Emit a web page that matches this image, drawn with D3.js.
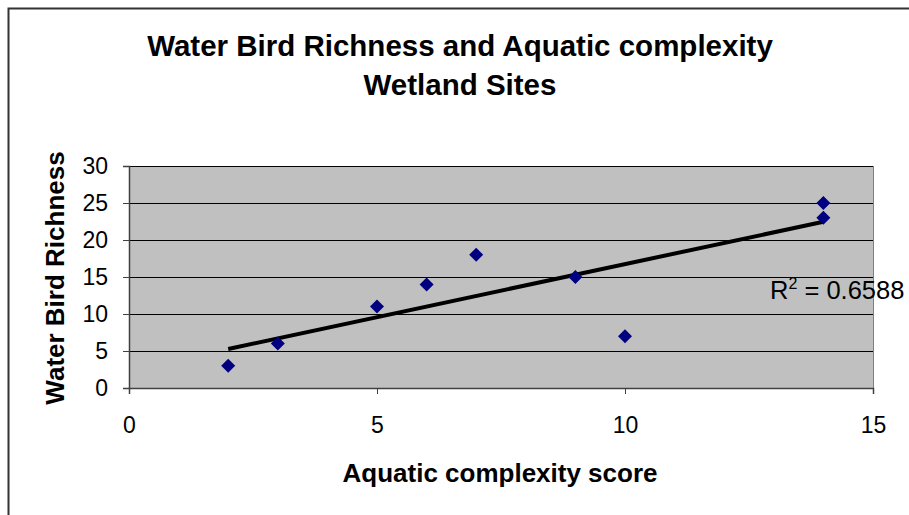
<!DOCTYPE html>
<html>
<head>
<meta charset="utf-8">
<script src="https://cdn.jsdelivr.net/npm/d3@7"></script>
<style>
  html, body { margin: 0; padding: 0; background: #ffffff; }
  svg { display: block; font-family: "Liberation Sans", Arial, sans-serif; }
</style>
</head>
<body>
<svg id="chart" width="909" height="515"></svg>
<script>
// Aquatic complexity score per wetland site (x) and water bird species count (y)
const complexityScores = [2, 3, 5, 6, 7, 9, 10, 14, 14];
const birdRichness     = [3, 6, 11, 14, 18, 15, 7, 25, 23];
const xTicks = [0, 5, 10, 15];
const yTicks = [0, 5, 10, 15, 20, 25, 30];
const titleLines = ["Water Bird Richness and Aquatic complexity", "Wetland Sites"];
const xTitle = "Aquatic complexity score";
const yTitle = "Water Bird Richness";
const rSquaredText = "0.6588";

const svg = d3.select("#chart");
const plot = { left: 129, right: 873, top: 166, bottom: 388 };

const x = d3.scaleLinear().domain([0, 15]).range([plot.left, plot.right]);
const y = d3.scaleLinear().domain([0, 30]).range([plot.bottom, plot.top]);

// outer chart frame (top and left edges visible)
svg.append("path")
  .attr("d", "M8.5,515 L8.5,8.5 L909,8.5")
  .attr("fill", "none").attr("stroke", "#333").attr("stroke-width", 2);

// plot area background
svg.append("rect")
  .attr("x", plot.left).attr("y", plot.top)
  .attr("width", plot.right - plot.left).attr("height", plot.bottom - plot.top)
  .attr("fill", "#c0c0c0");

// horizontal gridlines
svg.append("g").selectAll("line")
  .data(yTicks.filter(d => d > 0))
  .join("line")
  .attr("x1", plot.left).attr("x2", plot.right)
  .attr("y1", d => Math.round(y(d)) + 0.5).attr("y2", d => Math.round(y(d)) + 0.5)
  .attr("stroke", "#000").attr("stroke-width", 1);

// right edge of plot area
svg.append("line")
  .attr("x1", plot.right + 0.5).attr("x2", plot.right + 0.5)
  .attr("y1", plot.top).attr("y2", plot.bottom)
  .attr("stroke", "#808080").attr("stroke-width", 1);

// axes
const yAxis = svg.append("g")
  .attr("transform", `translate(${plot.left},0)`)
  .call(d3.axisLeft(y).tickValues(yTicks).tickSize(6).tickPadding(15));
const xAxis = svg.append("g")
  .attr("transform", `translate(0,${plot.bottom})`)
  .call(d3.axisBottom(x).tickValues(xTicks).tickSize(6).tickPadding(23));

[xAxis, yAxis].forEach(g => {
  g.select(".domain").attr("stroke", "#404040").attr("stroke-width", 1.5);
  g.selectAll(".tick line").attr("stroke", "#404040");
  g.selectAll(".tick text")
    .attr("fill", "#000")
    .style("font-size", "23px")
    .style("font-family", "'Liberation Sans', Arial, sans-serif");
});

// least-squares trendline
const mx = d3.mean(complexityScores), my = d3.mean(birdRichness);
let sxy = 0, sxx = 0;
complexityScores.forEach((v, i) => { sxy += (v - mx) * (birdRichness[i] - my); sxx += (v - mx) ** 2; });
const slope = sxy / sxx, intercept = my - slope * mx;
const [xMin, xMax] = d3.extent(complexityScores);
svg.append("line")
  .attr("x1", x(xMin)).attr("y1", y(intercept + slope * xMin))
  .attr("x2", x(xMax)).attr("y2", y(intercept + slope * xMax))
  .attr("stroke", "#000").attr("stroke-width", 4);

// data markers
svg.append("g").selectAll("path")
  .data(complexityScores.map((v, i) => [v, birdRichness[i]]))
  .join("path")
  .attr("transform", d => `translate(${x(d[0])},${y(d[1])})`)
  .attr("d", "M0,-7 L7,0 L0,7 L-7,0 Z")
  .attr("fill", "#000080");

// R² label
const rLabel = svg.append("text")
  .attr("x", 770).attr("y", 299)
  .style("font-size", "25.5px").attr("fill", "#000");
rLabel.append("tspan").text("R");
rLabel.append("tspan").attr("dy", -10).style("font-size", "16px").text("2");
rLabel.append("tspan").attr("dy", 10).text(" = " + rSquaredText);

// titles
svg.append("g").selectAll("text")
  .data(titleLines)
  .join("text")
  .attr("x", 460).attr("y", (d, i) => 56 + i * 39)
  .attr("text-anchor", "middle")
  .style("font-size", "29.5px").style("font-weight", "bold")
  .text(d => d);

svg.append("text")
  .attr("x", 500).attr("y", 482)
  .attr("text-anchor", "middle")
  .style("font-size", "26px").style("font-weight", "bold")
  .text(xTitle);

svg.append("text")
  .attr("transform", "translate(64,278) rotate(-90)")
  .attr("text-anchor", "middle")
  .style("font-size", "26px").style("font-weight", "bold")
  .text(yTitle);
</script>
</body>
</html>
